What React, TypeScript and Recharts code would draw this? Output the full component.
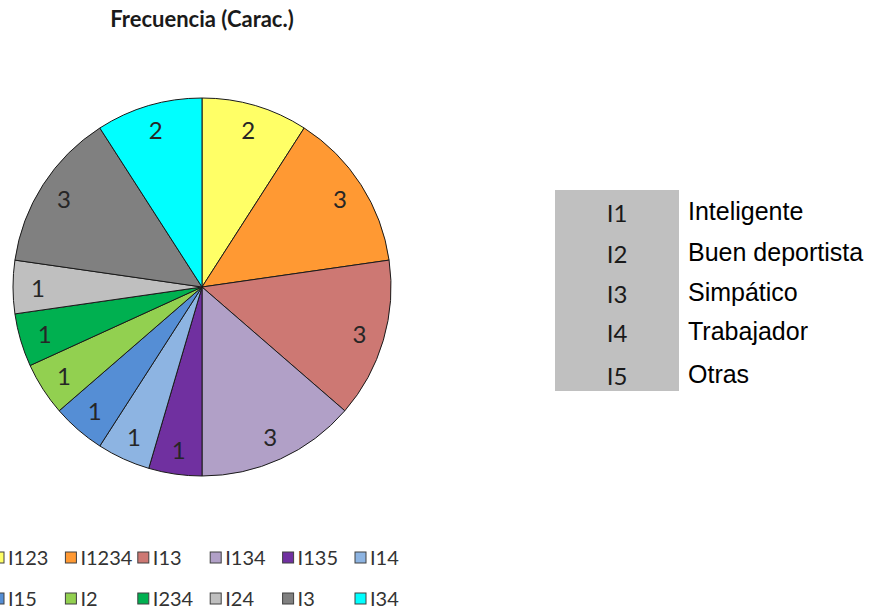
import { PieChart, Pie, Cell, Legend } from "recharts";

const categories = ["I123", "I1234", "I13", "I134", "I135", "I14", "I15", "I2", "I234", "I24", "I3", "I34"];
const counts = [2, 3, 3, 3, 1, 1, 1, 1, 1, 1, 3, 2];
const colors = [
  "#FFFF66", "#FF9933", "#CD7873", "#B1A0C7", "#7030A0", "#8DB4E2",
  "#558ED5", "#92D050", "#00B050", "#BFBFBF", "#808080", "#00FFFF",
];

const codes = ["I1", "I2", "I3", "I4", "I5"];
const meanings = ["Inteligente", "Buen deportista", "Simpático", "Trabajador", "Otras"];

const data = categories.map((name, i) => ({ name, value: counts[i], fill: colors[i] }));

const renderLabel = (props: any) => {
  const { cx, cy, midAngle, value } = props;
  const r = 164;
  const rad = (Math.PI / 180) * midAngle;
  const x = cx + r * Math.cos(rad);
  const y = cy - r * Math.sin(rad);
  return (
    <text
      x={x}
      y={y}
      textAnchor="middle"
      dominantBaseline="central"
      fill="#262626"
      fontSize={24}
      fontFamily="Lato"
    >
      {value}
    </text>
  );
};

const renderLegend = () => (
  <svg width={440} height={80}>
    {categories.map((name, i) => {
      const col = i % 6;
      const row = Math.floor(i / 6);
      const x = -7 + col * 72.4;
      const y = 19 + row * 41;
      return (
        <g key={name}>
          <rect x={x} y={y - 5} width={11} height={11} fill={colors[i]} stroke="#404040" strokeWidth={1} />
          <text x={x + 15} y={y} dominantBaseline="central" fontSize={20} fontFamily="Lato" fill="#333">
            {name}
          </text>
        </g>
      );
    })}
  </svg>
);

export default function App() {
  return (
    <div style={{ position: "absolute", left: 0, top: 0, width: 878, height: 611, background: "#fff" }}>
      <PieChart width={878} height={611} margin={{ top: 0, right: 0, bottom: 0, left: 0 }}>
        <text x={202} y={27} textAnchor="middle" fontSize={22} fontWeight="bold" fontFamily="Lato" fill="#1a1a1a">
          Frecuencia (Carac.)
        </text>
        <Pie
          data={data}
          dataKey="value"
          nameKey="name"
          cx={202}
          cy={287}
          outerRadius={189}
          startAngle={90}
          endAngle={-270}
          stroke="#1a1a1a"
          strokeWidth={1}
          label={renderLabel}
          labelLine={false}
          isAnimationActive={false}
        >
          {data.map((d) => (
            <Cell key={d.name} fill={d.fill} />
          ))}
        </Pie>
        <Legend content={renderLegend} wrapperStyle={{ position: "absolute", left: 0, top: 538, width: 440 }} />
      </PieChart>
      <div style={{ position: "absolute", left: 555, top: 190, width: 124, height: 201, background: "#C0C0C0" }} />
      {codes.map((c, i) => {
        const base = [221, 262, 302, 341, 384][i];
        return (
          <div key={c}>
            <div
              style={{
                position: "absolute", left: 555, width: 124, top: base - 22, height: 28,
                textAlign: "center", fontFamily: "Lato", fontSize: 24, lineHeight: "28px", color: "#1a1a1a",
              }}
            >
              {c}
            </div>
            <div
              style={{
                position: "absolute", left: 688, top: base - 24, height: 28, whiteSpace: "nowrap",
                fontFamily: "Liberation Sans", fontSize: 25, lineHeight: "28px", color: "#000",
              }}
            >
              {meanings[i]}
            </div>
          </div>
        );
      })}
    </div>
  );
}
